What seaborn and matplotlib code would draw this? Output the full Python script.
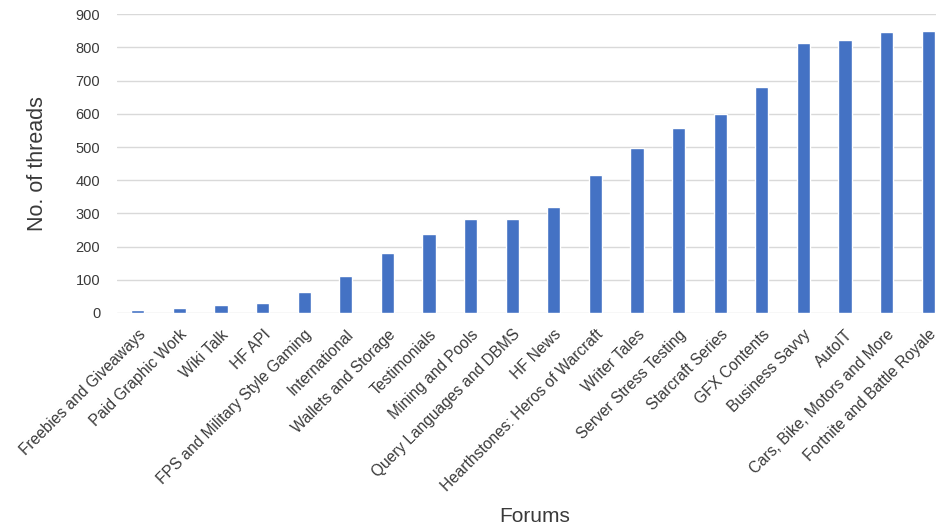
import matplotlib
matplotlib.use("Agg")
import matplotlib.pyplot as plt
import seaborn as sns
import pandas as pd

forums = [
    "Freebies and Giveaways", "Paid Graphic Work", "Wiki Talk", "HF API",
    "FPS and Military Style Gaming", "International", "Wallets and Storage",
    "Testimonials", "Mining and Pools", "Query Languages and DBMS", "HF News",
    "Hearthstones: Heros of Warcraft", "Writer Tales", "Server Stress Testing",
    "Starcraft Series", "GFX Contents", "Business Savvy", "AutoIT",
    "Cars, Bike, Motors and More", "Fortnite and Battle Royale",
]
threads = [8, 15, 24, 29, 62, 110, 181, 238, 282, 282, 319,
           417, 498, 558, 601, 680, 815, 822, 846, 849]
yticks = [0, 100, 200, 300, 400, 500, 600, 700, 800, 900]

df = pd.DataFrame({"Forum": forums, "Threads": threads})

sns.set_theme(style="white")
plt.rcParams["font.family"] = ["Liberation Sans", "DejaVu Sans"]

fig = plt.figure(figsize=(9.37, 5.29), dpi=100)
ax = fig.add_axes([117 / 937, 1 - 313 / 529, 832 / 937, 298.7 / 529])

sns.barplot(data=df, x="Forum", y="Threads", color="#4472C4",
            saturation=1, width=0.32, ax=ax, zorder=3)

ax.set_ylim(0, 900)
ax.set_xlim(-0.5, len(forums) - 0.5)
ax.set_yticks(yticks)
ax.set_yticklabels([str(t) for t in yticks], fontsize=10.5, color="#3a3a3a")
ax.yaxis.grid(True, color="#d9d9d9", linewidth=1, zorder=0)
ax.set_axisbelow(True)
for s in ax.spines.values():
    s.set_visible(False)
ax.tick_params(axis="both", length=0)
ax.tick_params(axis="y", pad=12)

ax.set_xticks(range(len(forums)))
ax.set_xticklabels(forums, rotation=45, ha="right", rotation_mode="anchor",
                   fontsize=11.2, color="#3a3a3a")
ax.tick_params(axis="x", pad=10)

ax.set_xlabel("")
ax.set_ylabel("No. of threads", fontsize=15.5, color="#3a3a3a", labelpad=20)
fig.text(535 / 937, 1 - 517 / 529, "Forums", fontsize=15, color="#3a3a3a",
         ha="center", va="center")

fig.savefig("out.png", dpi=100, facecolor="white")
